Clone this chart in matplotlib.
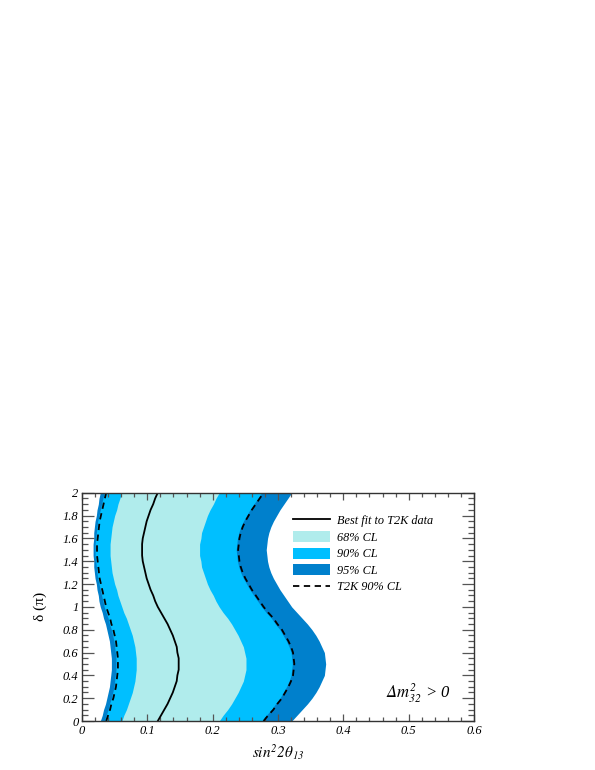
import numpy as np
import matplotlib
matplotlib.use('Agg')
import matplotlib.pyplot as plt
from matplotlib.lines import Line2D
from matplotlib.patches import Patch
from matplotlib.ticker import MultipleLocator

plt.rcParams['font.family'] = ['Liberation Serif', 'DejaVu Serif']
plt.rcParams['font.style'] = 'italic'
plt.rcParams['mathtext.fontset'] = 'stix'

# delta in units of pi, 0 .. 2 in steps of 0.05
delta = [round(0.05 * k, 2) for k in range(41)]

# sin^2 2theta13 contour edges
cl95_left = [0.028, 0.031, 0.033, 0.036, 0.038, 0.040, 0.042, 0.043, 0.044, 0.045, 0.045,
             0.045, 0.044, 0.043, 0.042, 0.040, 0.038, 0.036, 0.033, 0.031, 0.028,
             0.026, 0.025, 0.023, 0.022, 0.020, 0.019, 0.018, 0.018, 0.017, 0.017,
             0.017, 0.018, 0.018, 0.019, 0.020, 0.022, 0.023, 0.025, 0.026, 0.028]
cl95_right = [0.321, 0.329, 0.337, 0.345, 0.352, 0.358, 0.363, 0.367, 0.371, 0.372, 0.373,
              0.372, 0.371, 0.367, 0.363, 0.358, 0.352, 0.345, 0.337, 0.329, 0.321,
              0.315, 0.309, 0.303, 0.298, 0.293, 0.289, 0.286, 0.284, 0.283, 0.282,
              0.283, 0.284, 0.286, 0.289, 0.293, 0.298, 0.303, 0.309, 0.315, 0.321]
cl90_left = [0.034, 0.037, 0.040, 0.042, 0.045, 0.047, 0.049, 0.050, 0.051, 0.052, 0.052,
             0.052, 0.051, 0.050, 0.049, 0.047, 0.045, 0.042, 0.040, 0.037, 0.034,
             0.032, 0.030, 0.028, 0.026, 0.024, 0.023, 0.022, 0.021, 0.020, 0.020,
             0.020, 0.021, 0.022, 0.023, 0.024, 0.026, 0.028, 0.030, 0.032, 0.034]
cl90_right = [0.275, 0.282, 0.290, 0.296, 0.303, 0.308, 0.313, 0.317, 0.320, 0.321, 0.322,
              0.321, 0.320, 0.317, 0.313, 0.308, 0.303, 0.296, 0.290, 0.282, 0.275,
              0.269, 0.263, 0.257, 0.252, 0.247, 0.243, 0.240, 0.238, 0.237, 0.236,
              0.237, 0.238, 0.240, 0.243, 0.247, 0.252, 0.257, 0.263, 0.269, 0.275]
cl68_left = [0.061, 0.064, 0.068, 0.071, 0.074, 0.077, 0.079, 0.081, 0.082, 0.083, 0.083,
             0.083, 0.082, 0.081, 0.079, 0.077, 0.074, 0.071, 0.068, 0.064, 0.061,
             0.058, 0.055, 0.053, 0.050, 0.048, 0.046, 0.045, 0.044, 0.043, 0.043,
             0.043, 0.044, 0.045, 0.046, 0.048, 0.050, 0.053, 0.055, 0.058, 0.061]
cl68_right = [0.210, 0.216, 0.223, 0.229, 0.234, 0.239, 0.243, 0.247, 0.249, 0.251, 0.251,
              0.251, 0.249, 0.247, 0.243, 0.239, 0.234, 0.229, 0.223, 0.216, 0.210,
              0.205, 0.201, 0.196, 0.192, 0.189, 0.186, 0.183, 0.182, 0.180, 0.180,
              0.180, 0.182, 0.183, 0.186, 0.189, 0.192, 0.196, 0.201, 0.205, 0.210]
best_fit = [0.116, 0.121, 0.126, 0.131, 0.135, 0.139, 0.142, 0.145, 0.146, 0.148, 0.148,
            0.148, 0.146, 0.145, 0.142, 0.139, 0.135, 0.131, 0.126, 0.121, 0.116,
            0.112, 0.109, 0.105, 0.102, 0.099, 0.097, 0.095, 0.093, 0.092, 0.092,
            0.092, 0.093, 0.095, 0.097, 0.099, 0.102, 0.105, 0.109, 0.112, 0.116]
t2k_left = [0.037, 0.040, 0.043, 0.045, 0.048, 0.050, 0.052, 0.053, 0.054, 0.055, 0.055,
            0.055, 0.054, 0.053, 0.052, 0.050, 0.048, 0.045, 0.043, 0.040, 0.037,
            0.035, 0.033, 0.031, 0.029, 0.027, 0.026, 0.025, 0.024, 0.023, 0.023,
            0.023, 0.024, 0.025, 0.026, 0.027, 0.029, 0.031, 0.033, 0.035, 0.037]
t2k_right = [0.278, 0.285, 0.293, 0.299, 0.306, 0.311, 0.316, 0.320, 0.323, 0.324, 0.325,
             0.324, 0.323, 0.320, 0.316, 0.311, 0.306, 0.299, 0.293, 0.285, 0.278,
             0.272, 0.266, 0.260, 0.255, 0.250, 0.246, 0.243, 0.241, 0.240, 0.239,
             0.240, 0.241, 0.243, 0.246, 0.250, 0.255, 0.260, 0.266, 0.272, 0.278]

c68 = '#b0ecec'
c90 = '#00bfff'
c95 = '#0080cc'
dash = (0, (3.5, 2.5))

fig = plt.figure(figsize=(5.95, 7.7), dpi=100)
ax = fig.add_axes([0.1378, 0.0636, 0.6588, 0.2965])

ax.fill_betweenx(delta, cl95_left, cl95_right, color=c95, lw=0)
ax.fill_betweenx(delta, cl90_left, cl90_right, color=c90, lw=0)
ax.fill_betweenx(delta, cl68_left, cl68_right, color=c68, lw=0)
ax.plot(best_fit, delta, color='black', lw=1.3)
ax.plot(t2k_left, delta, color='black', lw=1.3, ls=dash)
ax.plot(t2k_right, delta, color='black', lw=1.3, ls=dash)

ax.set_xlim(0, 0.6)
ax.set_ylim(0, 2)
ax.xaxis.set_major_locator(MultipleLocator(0.1))
ax.xaxis.set_minor_locator(MultipleLocator(0.02))
ax.yaxis.set_major_locator(MultipleLocator(0.2))
ax.yaxis.set_minor_locator(MultipleLocator(0.05))
fmt = plt.FuncFormatter(lambda v, p: '0' if abs(v) < 1e-9 else '%g' % round(v, 2))
ax.xaxis.set_major_formatter(fmt)
ax.yaxis.set_major_formatter(fmt)

for s in ax.spines.values():
    s.set_color('#333333')
    s.set_linewidth(1.0)
ax.tick_params(axis='x', which='major', direction='in', length=5, width=0.9,
               color='#555555', top=True, labelsize=9, pad=2.5)
ax.tick_params(axis='x', which='minor', direction='in', length=3, width=0.9,
               color='#555555', top=True)
ax.tick_params(axis='y', which='major', direction='in', length=8.5, width=0.9,
               color='#555555', right=True, labelsize=9, pad=2.5)
ax.tick_params(axis='y', which='minor', direction='in', length=4.3, width=0.9,
               color='#555555', right=True)

ax.set_xlabel(r'$sin^{2}2\mathrm{\theta}_{13}$', fontsize=11)
ax.xaxis.set_label_coords(0.5, -0.09)
ax.set_ylabel('δ (π)', fontsize=11, fontstyle='normal')
ax.yaxis.set_label_coords(-0.09, 0.5)

handles = [Line2D([], [], color='black', lw=1.3),
           Patch(facecolor=c68, edgecolor='none'),
           Patch(facecolor=c90, edgecolor='none'),
           Patch(facecolor=c95, edgecolor='none'),
           Line2D([], [], color='black', lw=1.3, ls=dash)]
labels = ['Best fit to T2K data', '68% CL', '90% CL', '95% CL', 'T2K 90% CL']
leg = ax.legend(handles, labels, loc='upper left', bbox_to_anchor=(0.527, 0.926),
                frameon=False, fontsize=8.8, handlelength=2.95, handleheight=1.0,
                handletextpad=0.65, labelspacing=0.32, borderaxespad=0)

ax.text(0.94, 0.10, r'$\Delta m^{2}_{32}$ > 0', transform=ax.transAxes,
        ha='right', va='baseline', fontsize=12)

fig.savefig('out.png', dpi=100)
